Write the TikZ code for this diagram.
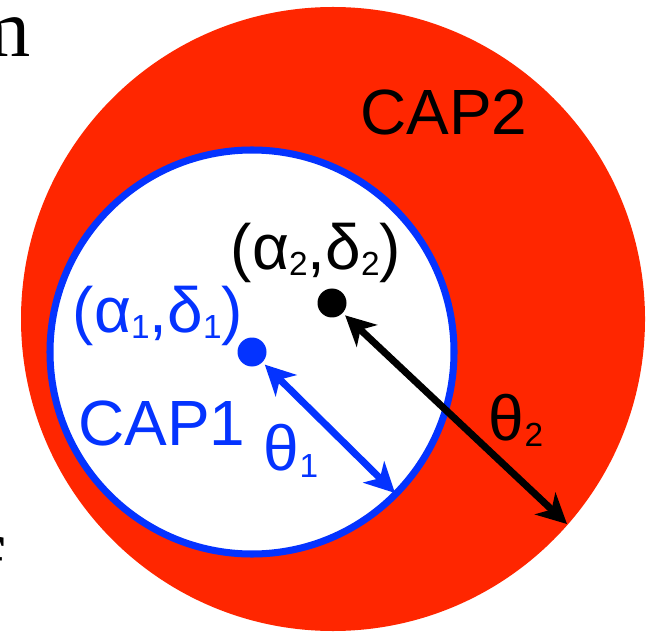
\documentclass[tikz,border=0pt]{standalone}
\usepackage{fontspec}
\setmainfont{Liberation Sans}
\newfontfamily\slidefont{Liberation Serif}
\usetikzlibrary{arrows.meta}
\definecolor{capred}{RGB}{255,38,0}
\definecolor{capblue}{RGB}{4,51,255}
\newcommand{\capsub}[1]{\raisebox{-1.8pt}{\fontsize{9.5}{10}\selectfont #1}}
\begin{document}
\begin{tikzpicture}[line width=2pt, >={Stealth[length=8.5pt,width=8.5pt,inset=2.5pt]},
    font=\fontsize{18.2}{20}\selectfont,
    dot/.style={circle, fill, inner sep=0pt, minimum size=0.29cm},
    cut/.style={inner sep=0pt, anchor=base east, font=\slidefont\fontsize{23.5}{26}\selectfont}]

        \useasboundingbox (0,0) rectangle (6.53,6.35);

        % --- Lettere tagliate dal bordo della slide ---
        \node[cut] (mcut) at (0.34,5.78) {m};
        \node[cut] (fcut) at (0.08,0.40) {f};

        % --- Cap 2 (disco rosso) e Cap 1 (disco bianco, bordo blu) ---
        \fill[capred] (3.33,3.16) circle (3.12);
        \filldraw[fill=white, draw=capblue] (2.52,2.83) circle (2.02);

        % --- Centri ---
        \node[dot, black] (c2) at (3.32,3.32) {};
        \node[dot, capblue] (c1) at (2.52,2.83) {};
        \coordinate (r2) at (5.67,1.11);
        \coordinate (r1) at (3.95,1.42);

        % --- Raggi ---
        \draw[<->, capblue] (c1) -- (r1);
        \draw[<->] (c2) -- (r2);

        % --- Etichette ---
        \node (cap2) at (4.44,5.23) {CAP2};
        \node (pos2) at (3.16,3.82) {(α\capsub{2},δ\capsub{2})};
        \node[capblue] (pos1) at (1.58,3.19) {(α\capsub{1},δ\capsub{1})};
        \node[capblue] (cap1) at (1.62,2.12) {CAP1};
        \node[capblue] (th1) at (2.91,1.84) {θ\capsub{1}};
        \node (th2) at (5.16,2.15) {θ\capsub{2}};

\end{tikzpicture}
\end{document}
